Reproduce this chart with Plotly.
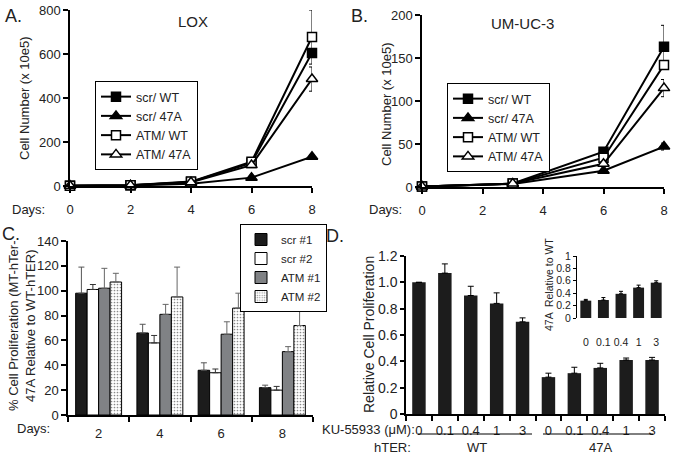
import plotly.graph_objects as go

W, H = 675, 459
FONT = "Liberation Sans, Arial, Helvetica, sans-serif"

# ---------- Panel A (LOX) ----------
days_A = [0, 2, 4, 6, 8]
A_scr_WT = [1, 3, 18, 105, 605]
A_scr_47A = [1, 2, 10, 38, 133]
A_ATM_WT = [1, 3, 20, 110, 677]
A_ATM_47A = [1, 3, 17, 95, 486]
A_err_scr_WT = [0, 0, 2, 5, 12]
A_err_scr_47A = [0, 0, 1, 3, 8]
A_err_ATM_WT = [0, 0, 2, 6, 123]
A_err_ATM_47A = [0, 0, 2, 5, 55]

# ---------- Panel B (UM-UC-3) ----------
days_B = [0, 3, 6, 8]
B_scr_WT = [0.5, 4, 41, 163]
B_scr_47A = [0.5, 3.5, 19, 47]
B_ATM_WT = [0.5, 4, 34, 142]
B_ATM_47A = [0.5, 4, 27, 115]
B_err_scr_WT = [0, 0.5, 2, 25]
B_err_scr_47A = [0, 0.3, 1, 4]
B_err_ATM_WT = [0, 0.5, 2, 4]
B_err_ATM_47A = [0, 0.5, 2, 10]

series_names = ["scr/ WT", "scr/ 47A", "ATM/ WT", "ATM/ 47A"]

# ---------- Panel C ----------
C_days = ["2", "4", "6", "8"]
C_scr1 = [98, 66, 36, 22]
C_scr2 = [101, 58, 34, 20]
C_ATM1 = [102, 81, 65, 51]
C_ATM2 = [107, 95, 86, 72]
C_err_scr1 = [21, 7, 6, 2]
C_err_scr2 = [4, 6, 3, 3]
C_err_ATM1 = [16, 8, 10, 4]
C_err_ATM2 = [7, 24, 12, 16]
C_names = ["scr #1", "scr #2", "ATM #1", "ATM #2"]

# ---------- Panel D ----------
D_doses = ["0", "0.1", "0.4", "1", "3", "0", "0.1", "0.4", "1", "3"]
D_values = [1.00, 1.07, 0.90, 0.84, 0.70, 0.28, 0.31, 0.35, 0.41, 0.41]
D_err = [0.0, 0.07, 0.07, 0.08, 0.03, 0.03, 0.045, 0.035, 0.015, 0.02]
D_groups = ["WT", "47A"]

# inset
I_doses = ["0", "0.1", "0.4", "1", "3"]
I_values = [0.28, 0.29, 0.39, 0.49, 0.57]
I_err = [0.02, 0.04, 0.04, 0.04, 0.03]

fig = go.Figure()

marker_styles = [
    dict(symbol="square", color="black", size=9, line=dict(color="black", width=1.5)),
    dict(symbol="triangle-up", color="black", size=10, line=dict(color="black", width=1.5)),
    dict(symbol="square", color="white", size=9, line=dict(color="black", width=1.5)),
    dict(symbol="triangle-up", color="white", size=10, line=dict(color="black", width=1.5)),
]

A_series = [A_scr_WT, A_scr_47A, A_ATM_WT, A_ATM_47A]
A_errs = [A_err_scr_WT, A_err_scr_47A, A_err_ATM_WT, A_err_ATM_47A]
B_series = [B_scr_WT, B_scr_47A, B_ATM_WT, B_ATM_47A]
B_errs = [B_err_scr_WT, B_err_scr_47A, B_err_ATM_WT, B_err_ATM_47A]

for i in range(4):
    fig.add_trace(go.Scatter(
        x=days_A, y=A_series[i], mode="lines+markers", name=series_names[i],
        line=dict(color="black", width=2), marker=marker_styles[i],
        error_y=dict(type="data", array=A_errs[i], color="black", thickness=1, width=3),
        xaxis="x", yaxis="y", legend="legend", cliponaxis=False))
for i in range(4):
    fig.add_trace(go.Scatter(
        x=days_B, y=B_series[i], mode="lines+markers", name=series_names[i],
        line=dict(color="black", width=2), marker=marker_styles[i],
        error_y=dict(type="data", array=B_errs[i], color="black", thickness=1, width=3),
        xaxis="x2", yaxis="y2", legend="legend2", cliponaxis=False))

C_series = [C_scr1, C_scr2, C_ATM1, C_ATM2]
C_errs = [C_err_scr1, C_err_scr2, C_err_ATM1, C_err_ATM2]
C_fill = ["#1c1c1c", "white", "#808285", "white"]
C_errcol = ["#555555", "#333333", "#666666", "#666666"]
cx = list(range(len(C_days)))
bw = 0.75 / 4
for i in range(4):
    mk = dict(color=C_fill[i], line=dict(color="black", width=1))
    if i == 3:
        mk["pattern"] = dict(shape=".", fgcolor="#8a8a8a", bgcolor="white", size=3, solidity=0.25)
    fig.add_trace(go.Bar(
        x=cx, y=C_series[i], name=C_names[i], width=bw, offset=-0.375 + i * bw,
        marker=mk,
        error_y=dict(type="data", symmetric=False, array=C_errs[i], arrayminus=[0] * 4,
                     color=C_errcol[i], thickness=1, width=3),
        xaxis="x3", yaxis="y3", legend="legend3"))

dx = list(range(len(D_doses)))
fig.add_trace(go.Bar(
    x=dx, y=D_values, width=0.52, marker=dict(color="#1c1c1c", line=dict(width=0)),
    error_y=dict(type="data", symmetric=False, array=D_err, arrayminus=[0] * len(D_err),
                 color="black", thickness=1, width=3),
    xaxis="x4", yaxis="y4", showlegend=False))

ix = list(range(len(I_doses)))
fig.add_trace(go.Bar(
    x=ix, y=I_values, width=0.62, marker=dict(color="#1c1c1c", line=dict(width=0)),
    error_y=dict(type="data", symmetric=False, array=I_err, arrayminus=[0] * len(I_err),
                 color="black", thickness=1, width=2),
    xaxis="x5", yaxis="y5", showlegend=False))


def px(x):
    return x / W


def py(y):
    return 1 - y / H


axis_common = dict(showline=True, linecolor="black", linewidth=1.5, ticks="outside",
                   ticklen=5, tickwidth=1.5, tickcolor="black", showgrid=False,
                   zeroline=False, automargin=False, tickfont=dict(size=13, color="#222"))

fig.update_layout(
    template="none",
    width=W, height=H, margin=dict(l=0, r=0, t=0, b=0, autoexpand=False),
    paper_bgcolor="white", plot_bgcolor="rgba(0,0,0,0)",
    font=dict(family=FONT, color="#222", size=13),
    barmode="overlay",
    xaxis=dict(domain=[px(70), px(312)], range=[0, 8], tickvals=[0, 2, 4, 6, 8],
               anchor="y", ticklabelstandoff=6, **axis_common),
    yaxis=dict(domain=[py(186), py(10)], range=[0, 800], tickvals=[0, 200, 400, 600, 800],
               anchor="x", **axis_common),
    xaxis2=dict(domain=[px(422), px(664)], range=[0, 8], tickvals=[0, 2, 4, 6, 8],
                anchor="y2", ticklabelstandoff=6, **axis_common),
    yaxis2=dict(domain=[py(187), py(15)], range=[0, 200], tickvals=[0, 50, 100, 150, 200],
                anchor="x2", **axis_common),
    xaxis3=dict(domain=[px(68), px(313)], range=[-0.5, 3.5], tickvals=cx, ticktext=C_days,
                anchor="y3", showline=True, linecolor="black", linewidth=1.5, ticks="",
                showgrid=False, zeroline=False, automargin=False,
                tickfont=dict(size=13, color="#222"), ticklabelstandoff=6,
                minor=dict(tickvals=[-0.5, 0.5, 1.5, 2.5, 3.5], ticks="outside", ticklen=5,
                           tickwidth=1.5, tickcolor="black", showgrid=False)),
    yaxis3=dict(domain=[py(415), py(241)], range=[0, 140], dtick=20, anchor="x3",
                **axis_common),
    xaxis4=dict(domain=[px(406), px(665)], range=[-0.5, 9.5], tickvals=dx, ticktext=D_doses,
                anchor="y4", showline=True, linecolor="black", linewidth=1.5, ticks="",
                showgrid=False, zeroline=False, automargin=False,
                tickfont=dict(size=13, color="#222"), ticklabelstandoff=4,
                minor=dict(tickvals=[k - 0.5 for k in range(11)], ticks="outside", ticklen=5,
                           tickwidth=1.5, tickcolor="black", showgrid=False)),
    yaxis4=dict(domain=[py(414), py(256)], range=[0, 1.2],
                tickvals=[0, 0.2, 0.4, 0.6, 0.8, 1.0, 1.2],
                ticktext=["0", "0.2", "0.4", "0.6", "0.8", "1.0", "1.2"], anchor="x4",
                showline=True, linecolor="black", linewidth=1.5, ticks="outside", ticklen=4,
                tickwidth=1.5, tickcolor="black", showgrid=False, zeroline=False,
                automargin=False, tickfont=dict(size=14, color="#222")),
    xaxis5=dict(domain=[px(577), px(665)], range=[-0.5, 4.5], tickvals=ix, ticktext=I_doses,
                anchor="y5", showline=False, ticks="", showgrid=False, zeroline=False,
                automargin=False, tickfont=dict(size=10.5, color="#222"), ticklabelstandoff=16),
    yaxis5=dict(domain=[py(318), py(256)], range=[0, 1],
                tickvals=[0, 0.2, 0.4, 0.6, 0.8, 1],
                ticktext=["0", "0.2", "0.4", "0.6", "0.8", "1"], anchor="x5",
                showline=True, linecolor="black", linewidth=1.2, ticks="outside", ticklen=3,
                tickwidth=1, tickcolor="black", showgrid=False, zeroline=False,
                automargin=False, tickfont=dict(size=10.5, color="#222")),
    legend=dict(x=px(95), y=py(81), xanchor="left", yanchor="top", bgcolor="white",
                bordercolor="black", borderwidth=1, font=dict(size=12.5), itemwidth=30,
                tracegroupgap=0),
    legend2=dict(x=px(447), y=py(83), xanchor="left", yanchor="top", bgcolor="white",
                 bordercolor="black", borderwidth=1, font=dict(size=12.5), itemwidth=30,
                 tracegroupgap=0),
    legend3=dict(x=px(240), y=py(224), xanchor="left", yanchor="top", bgcolor="white",
                 bordercolor="black", borderwidth=1, font=dict(size=11.5), itemwidth=30,
                 tracegroupgap=0),
)

ann = []


def add_text(text, x, y, size=13, xanchor="center", yanchor="middle", angle=0):
    ann.append(dict(text=text, x=px(x), y=py(y), xref="paper", yref="paper",
                    showarrow=False, xanchor=xanchor, yanchor=yanchor, textangle=angle,
                    font=dict(size=size, family=FONT, color="#222")))


add_text("A.", 3, 16, size=18, xanchor="left")
add_text("B.", 349, 16, size=18, xanchor="left")
add_text("C.", 0, 234, size=18, xanchor="left")
add_text("D.", 324, 236, size=18, xanchor="left")
add_text("LOX", 193, 22, size=15)
add_text("UM-UC-3", 522, 23, size=15)
add_text("Days:", 10, 210, xanchor="left")
add_text("Days:", 367, 210, xanchor="left")
add_text("Days:", 15, 428, xanchor="left")
add_text("Cell Number (x 10e5)", 25, 98, angle=-90)
add_text("Cell Number (x 10e5)", 387, 104, angle=-90)
add_text("% Cell Proliferation (MT-hTer-<br>47A Relative to WT-hTER)", 22, 326, angle=-90)
add_text("Relative Cell Proliferation", 369, 335, size=14, angle=-90)
add_text("47A  Relative to WT", 549, 285, size=10.5, angle=-90)
add_text("KU-55933 (μM):", 417, 429, xanchor="right")
add_text("hTER:", 413, 447, xanchor="right")
add_text(D_groups[0], 477, 447)
add_text(D_groups[1], 600, 447)

fig.update_layout(annotations=ann)

shapes = [
    dict(type="line", xref="paper", yref="paper", x0=px(418), x1=px(532), y0=py(434), y1=py(434),
         line=dict(color="black", width=1)),
    dict(type="line", xref="paper", yref="paper", x0=px(543), x1=px(653), y0=py(434), y1=py(434),
         line=dict(color="black", width=1)),
]
fig.update_layout(shapes=shapes)

fig.write_html("out.html", config={"displayModeBar": False},
               post_script="document.body.style.margin='0';document.body.style.padding='0';")
